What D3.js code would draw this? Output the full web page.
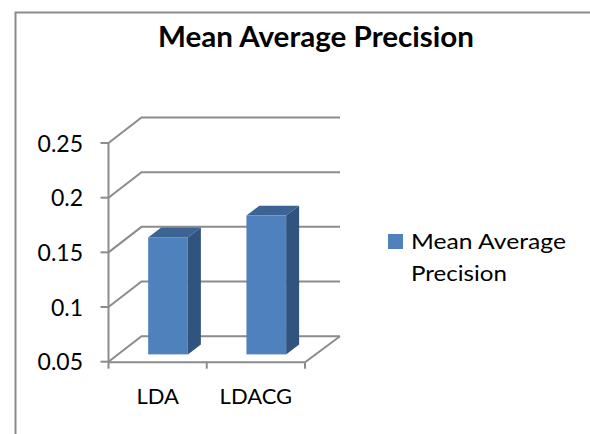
<!DOCTYPE html>
<html>
<head>
<meta charset="utf-8">
<script src="https://cdn.jsdelivr.net/npm/d3@7"></script>
<style>
  html, body { margin: 0; padding: 0; background: #fff; }
  svg { display: block; }
  text { font-family: Lato, "Open Sans", sans-serif; fill: #000; }
</style>
</head>
<body>
<div id="chart"></div>
<script>
const categories = ['LDA', 'LDACG'];
const seriesName = 'Mean Average Precision';
const values = [0.157, 0.177];
const yTicks = [0.05, 0.1, 0.15, 0.2, 0.25];
const legendLines = ['Mean Average', 'Precision'];

const width = 590;
const height = 434;

// Box depth of the fake 3D plot
const depthX = 33;
const depthY = 25.5;

const svg = d3.select('#chart')
    .append('svg')
    .attr('width', width)
    .attr('height', height);

// Chart frame, only top and left show in the crop
svg.append('path')
    .attr('d', 'M15.5,434V12.5H590')
    .attr('fill', 'none')
    .attr('stroke', '#8c8c8c')
    .attr('stroke-width', 2);

svg.append('text')
    .attr('x', 316)
    .attr('y', 46.5)
    .attr('text-anchor', 'middle')
    .attr('textLength', 316)
    .attr('lengthAdjust', 'spacingAndGlyphs')
    .style('font-size', '28px')
    .style('font-weight', 700)
    .text(seriesName);

const y = d3.scaleLinear()
    .domain([0.05, 0.25])
    .range([361.7, 143]);

const x = d3.scaleBand()
    .domain(categories)
    .range([108.5, 305]);

const grid = svg.append('g')
    .attr('fill', 'none')
    .attr('stroke', '#8c8c8c')
    .attr('stroke-width', 2);

// Wall lines, side then back
yTicks.forEach(t => {
    const px = d3.path();
    px.moveTo(x.range()[0], y(t));
    px.lineTo(x.range()[0] + depthX, y(t) - depthY);
    px.lineTo(x.range()[1] + depthX + 2, y(t) - depthY);
    grid.append('path').attr('d', px.toString());
});

// Floor front edge
const floor = d3.path();
floor.moveTo(x.range()[0], y(0.05) + 0.5);
floor.lineTo(x.range()[1], y(0.05) + 0.5);
floor.lineTo(x.range()[1] + depthX + 2, y(0.05) - depthY);
grid.append('path').attr('d', floor.toString());

// Axis line and ticks
grid.append('line')
    .attr('x1', x.range()[0]).attr('x2', x.range()[0])
    .attr('y1', y(0.25)).attr('y2', y(0.05));

yTicks.forEach(t => {
    grid.append('line')
        .attr('x1', x.range()[0] - 8).attr('x2', x.range()[0])
        .attr('y1', y(t)).attr('y2', y(t));
});

[...categories, null].forEach(c => {
    const tx = c ? x(c) : x.range()[1];
    grid.append('line')
        .attr('x1', tx).attr('x2', tx)
        .attr('y1', y(0.05)).attr('y2', y(0.05) + 7);
});

svg.append('g')
    .selectAll('text')
    .data(yTicks)
    .join('text')
    .attr('x', 83)
    .attr('y', d => y(d) + 8.5)
    .attr('text-anchor', 'end')
    .style('font-size', '23px')
    .text(d => d);

svg.append('g')
    .selectAll('text')
    .data(categories)
    .join('text')
    .attr('x', d => x(d) + x.bandwidth() / 2)
    .attr('y', 404)
    .attr('text-anchor', 'middle')
    .style('font-size', '22px')
    .text(d => d);

// Bars, sitting part way into the floor
const barWidth = 39.7;
const barDepthX = 13;
const barDepthY = 9.8;
const floorOffsetY = 7.3;

const bars = svg.append('g')
    .selectAll('g')
    .data(categories.map((c, i) => ({ c, v: values[i] })))
    .join('g')
    .attr('transform', d => `translate(${x(d.c) + x.bandwidth() / 2 - barWidth / 2 + 10.4},0)`);

bars.append('path')
    .attr('fill', '#3b6494')
    .attr('d', d => {
        const t = y(d.v) - floorOffsetY;
        return `M0,${t}l${barDepthX},${-barDepthY}h${barWidth}l${-barDepthX},${barDepthY}Z`;
    });

bars.append('path')
    .attr('fill', '#31547e')
    .attr('d', d => {
        const t = y(d.v) - floorOffsetY;
        const b = y(0.05) - floorOffsetY;
        return `M${barWidth},${t}l${barDepthX},${-barDepthY}V${b - barDepthY}l${-barDepthX},${barDepthY}Z`;
    });

bars.append('rect')
    .attr('width', barWidth)
    .attr('y', d => y(d.v) - floorOffsetY)
    .attr('height', d => y(0.05) - y(d.v))
    .attr('fill', '#4f81bd');

// Legend
svg.append('rect')
    .attr('x', 388)
    .attr('y', 234)
    .attr('width', 15)
    .attr('height', 15)
    .attr('fill', '#4f81bd');

const legendWidths = [155, 96];

svg.append('g')
    .selectAll('text')
    .data(legendLines)
    .join('text')
    .attr('x', 411)
    .attr('y', (d, i) => 248.5 + i * 32)
    .attr('textLength', (d, i) => legendWidths[i])
    .attr('lengthAdjust', 'spacingAndGlyphs')
    .style('font-size', '22px')
    .text(d => d);
</script>
</body>
</html>
